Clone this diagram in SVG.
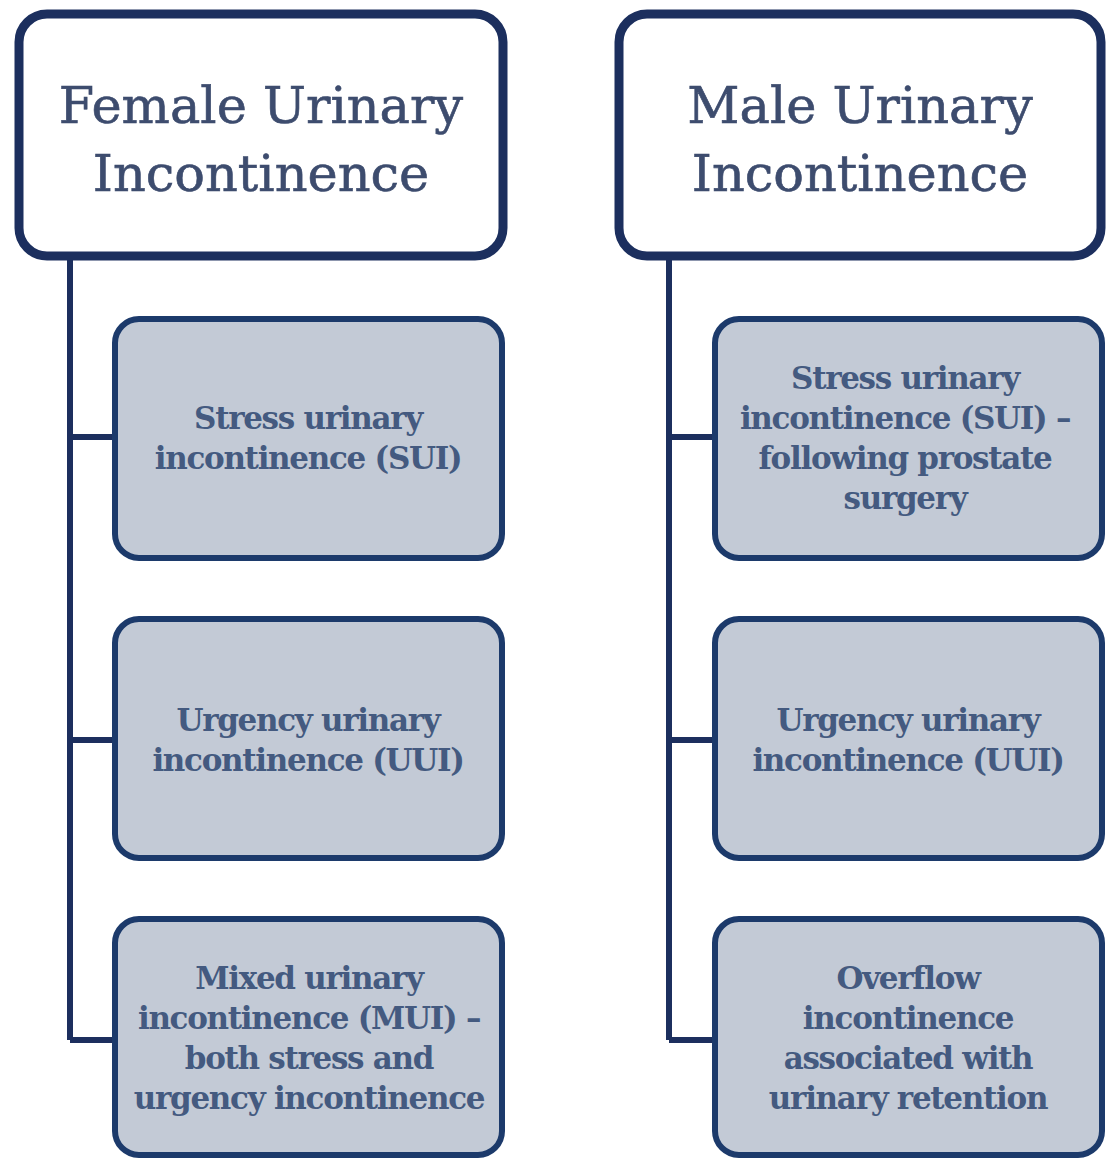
<svg xmlns="http://www.w3.org/2000/svg" width="1107" height="1158" viewBox="0 0 1107 1158">
<style>
.hdr{fill:#ffffff;stroke:#1c2f5e;stroke-width:9}
.sub{fill:#c3cad6;stroke:#1c3a6b;stroke-width:6}
.ht{font-family:"DejaVu Serif","Liberation Serif",serif;font-size:51px;fill:#3d4c6e;text-anchor:middle;stroke:#3d4c6e;stroke-width:0.6}
.st{font-family:"DejaVu Serif","Liberation Serif",serif;font-size:31px;font-weight:bold;fill:#445a80;text-anchor:middle;letter-spacing:-1.3px}
.ln{stroke:#1c2f5e;stroke-width:6;fill:none}
</style>
<rect width="1107" height="1158" fill="#ffffff"/>
<g id="connectors">
<path class="ln" d="M70 258 V1040 M70 437 H115 M70 740 H115 M70 1040 H115"/>
<path class="ln" d="M669 258 V1040 M669 437 H715 M669 740 H715 M669 1040 H715"/>
</g>
<g id="female">
<rect class="hdr" x="19" y="14" width="484" height="242" rx="28"/>
<text class="ht" x="261" y="123">Female Urinary</text>
<text class="ht" x="261" y="191">Incontinence</text>
</g>
<g id="male">
<rect class="hdr" x="619" y="14" width="482" height="242" rx="28"/>
<text class="ht" x="860" y="123">Male Urinary</text>
<text class="ht" x="860" y="191">Incontinence</text>
</g>
<g id="f-sui">
<rect class="sub" x="115" y="319" width="387" height="239" rx="24"/>
<text class="st" x="308" y="429">Stress urinary</text>
<text class="st" x="308" y="469">incontinence (SUI)</text>
</g>
<g id="f-uui">
<rect class="sub" x="115" y="619" width="387" height="239" rx="24"/>
<text class="st" x="308" y="731">Urgency urinary</text>
<text class="st" x="308" y="771">incontinence (UUI)</text>
</g>
<g id="f-mui">
<rect class="sub" x="115" y="919" width="387" height="236" rx="24"/>
<text class="st" x="309" y="989">Mixed urinary</text>
<text class="st" x="309" y="1029">incontinence (MUI) –</text>
<text class="st" x="309" y="1069">both stress and</text>
<text class="st" x="309" y="1109">urgency incontinence</text>
</g>
<g id="m-sui">
<rect class="sub" x="715" y="319" width="387" height="239" rx="24"/>
<text class="st" x="905" y="389">Stress urinary</text>
<text class="st" x="905" y="429">incontinence (SUI) –</text>
<text class="st" x="905" y="469">following prostate</text>
<text class="st" x="905" y="509">surgery</text>
</g>
<g id="m-uui">
<rect class="sub" x="715" y="619" width="387" height="239" rx="24"/>
<text class="st" x="908" y="731">Urgency urinary</text>
<text class="st" x="908" y="771">incontinence (UUI)</text>
</g>
<g id="m-overflow">
<rect class="sub" x="715" y="919" width="387" height="236" rx="24"/>
<text class="st" x="908" y="989">Overflow</text>
<text class="st" x="908" y="1029">incontinence</text>
<text class="st" x="908" y="1069">associated with</text>
<text class="st" x="908" y="1109">urinary retention</text>
</g>
</svg>
